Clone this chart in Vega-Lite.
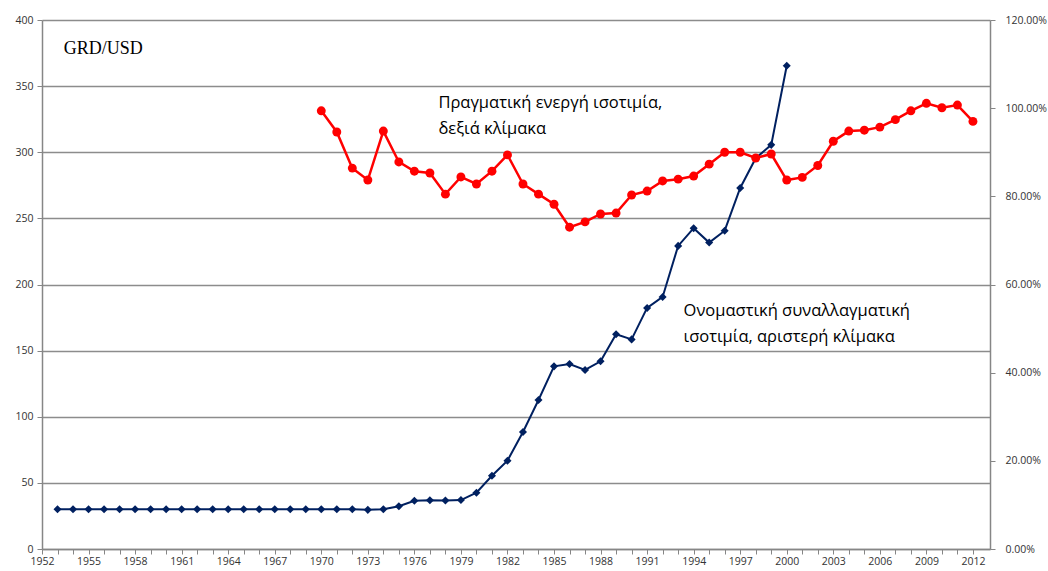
{
  "$schema": "https://vega.github.io/schema/vega-lite/v6.json",
  "width": 948,
  "height": 529,
  "autosize": {"type": "none"},
  "padding": {"left": 42, "top": 20, "right": 58, "bottom": 22},
  "background": "white",
  "config": {
    "view": {"stroke": null},
    "axis": {"labelFont": "Open Sans", "labelFontSize": 10.5, "labelColor": "#333333", "domainColor": "#868686", "tickColor": "#868686", "domainWidth": 1.5, "gridColor": "#8c8c8c", "gridWidth": 1.5}
  },
  "datasets": {
    "nominal": [
      {"year": 1953, "v": 30}, {"year": 1954, "v": 30}, {"year": 1955, "v": 30}, {"year": 1956, "v": 30},
      {"year": 1957, "v": 30}, {"year": 1958, "v": 30}, {"year": 1959, "v": 30}, {"year": 1960, "v": 30},
      {"year": 1961, "v": 30}, {"year": 1962, "v": 30}, {"year": 1963, "v": 30}, {"year": 1964, "v": 30},
      {"year": 1965, "v": 30}, {"year": 1966, "v": 30}, {"year": 1967, "v": 30}, {"year": 1968, "v": 30},
      {"year": 1969, "v": 30}, {"year": 1970, "v": 30}, {"year": 1971, "v": 30}, {"year": 1972, "v": 30},
      {"year": 1973, "v": 29.6}, {"year": 1974, "v": 30}, {"year": 1975, "v": 32.3}, {"year": 1976, "v": 36.5},
      {"year": 1977, "v": 36.8}, {"year": 1978, "v": 36.7}, {"year": 1979, "v": 37}, {"year": 1980, "v": 42.6},
      {"year": 1981, "v": 55.4}, {"year": 1982, "v": 66.8}, {"year": 1983, "v": 88.5}, {"year": 1984, "v": 112.7},
      {"year": 1985, "v": 138.1}, {"year": 1986, "v": 139.9}, {"year": 1987, "v": 135.4}, {"year": 1988, "v": 141.9},
      {"year": 1989, "v": 162.4}, {"year": 1990, "v": 158.5}, {"year": 1991, "v": 182.3}, {"year": 1992, "v": 190.6},
      {"year": 1993, "v": 229.2}, {"year": 1994, "v": 242.6}, {"year": 1995, "v": 231.7}, {"year": 1996, "v": 240.7},
      {"year": 1997, "v": 273}, {"year": 1998, "v": 295.5}, {"year": 1999, "v": 305.6}, {"year": 2000, "v": 365.4}
    ],
    "real": [
      {"year": 1970, "r": 0.994}, {"year": 1971, "r": 0.946}, {"year": 1972, "r": 0.864}, {"year": 1973, "r": 0.837},
      {"year": 1974, "r": 0.948}, {"year": 1975, "r": 0.878}, {"year": 1976, "r": 0.857}, {"year": 1977, "r": 0.853},
      {"year": 1978, "r": 0.805}, {"year": 1979, "r": 0.844}, {"year": 1980, "r": 0.828}, {"year": 1981, "r": 0.857},
      {"year": 1982, "r": 0.894}, {"year": 1983, "r": 0.828}, {"year": 1984, "r": 0.805}, {"year": 1985, "r": 0.782},
      {"year": 1986, "r": 0.730}, {"year": 1987, "r": 0.742}, {"year": 1988, "r": 0.760}, {"year": 1989, "r": 0.762},
      {"year": 1990, "r": 0.803}, {"year": 1991, "r": 0.812}, {"year": 1992, "r": 0.835}, {"year": 1993, "r": 0.839},
      {"year": 1994, "r": 0.846}, {"year": 1995, "r": 0.873}, {"year": 1996, "r": 0.900}, {"year": 1997, "r": 0.900},
      {"year": 1998, "r": 0.887}, {"year": 1999, "r": 0.896}, {"year": 2000, "r": 0.837}, {"year": 2001, "r": 0.843},
      {"year": 2002, "r": 0.870}, {"year": 2003, "r": 0.925}, {"year": 2004, "r": 0.948}, {"year": 2005, "r": 0.950},
      {"year": 2006, "r": 0.957}, {"year": 2007, "r": 0.974}, {"year": 2008, "r": 0.994}, {"year": 2009, "r": 1.011},
      {"year": 2010, "r": 1.001}, {"year": 2011, "r": 1.007}, {"year": 2012, "r": 0.970}
    ],
    "labels": [
      {"year": 1953.4, "v": 378, "t": "GRD/USD", "f": "serif"},
      {"year": 1977.55, "v": 343, "t": "Πραγματική ενεργή ισοτιμία,\nδεξιά κλίμακα", "f": "sans"},
      {"year": 1993.35, "v": 186, "t": "Ονομαστική συναλλαγματική\nισοτιμία, αριστερή κλίμακα", "f": "sans"}
    ]
  },
  "encoding": {
    "x": {"field": "year", "type": "quantitative", "scale": {"domain": [1952, 2013.1], "nice": false, "zero": false},
      "axis": {"title": null, "grid": false, "format": "d", "values": [1952,1953,1954,1955,1956,1957,1958,1959,1960,1961,1962,1963,1964,1965,1966,1967,1968,1969,1970,1971,1972,1973,1974,1975,1976,1977,1978,1979,1980,1981,1982,1983,1984,1985,1986,1987,1988,1989,1990,1991,1992,1993,1994,1995,1996,1997,1998,1999,2000,2001,2002,2003,2004,2005,2006,2007,2008,2009,2010,2011,2012],
        "labelExpr": "(datum.value - 1952) % 3 == 0 ? datum.label : ''", "tickSize": 5, "labelPadding": 2, "labelOverlap": false, "labelFlush": false, "labelSeparation": 0, "labelBound": false}}
  },
  "layer": [
    {
      "layer": [
        {
          "data": {"name": "nominal"},
          "mark": {"type": "line", "color": "#002060", "strokeWidth": 2},
          "encoding": {
            "y": {"field": "v", "type": "quantitative", "scale": {"domain": [0, 400], "nice": false},
              "axis": {"title": null, "values": [0,50,100,150,200,250,300,350,400], "grid": true, "tickSize": 5, "labelPadding": 4, "domain": true}}
          }
        },
        {
          "data": {"name": "nominal"},
          "mark": {"type": "point", "shape": "diamond", "filled": true, "color": "#002060", "size": 65, "opacity": 1},
          "encoding": {
            "y": {"field": "v", "type": "quantitative"}
          }
        },
        {
          "data": {"name": "labels"},
          "transform": [{"filter": "datum.f == 'serif'"}],
          "mark": {"type": "text", "align": "left", "baseline": "middle", "font": "Liberation Serif", "fontSize": 18, "color": "#000000"},
          "encoding": {
            "y": {"field": "v", "type": "quantitative"},
            "text": {"field": "t"}
          }
        },
        {
          "data": {"name": "labels"},
          "transform": [{"filter": "datum.f == 'sans'"}],
          "mark": {"type": "text", "align": "left", "baseline": "top", "font": "Open Sans", "fontSize": 16.5, "lineBreak": "\n", "lineHeight": 26, "color": "#000000"},
          "encoding": {
            "y": {"field": "v", "type": "quantitative"},
            "text": {"field": "t"}
          }
        }
      ]
    },
    {
      "layer": [
        {
          "data": {"name": "real"},
          "mark": {"type": "line", "color": "#ff0000", "strokeWidth": 2.5},
          "encoding": {
            "y": {"field": "r", "type": "quantitative", "scale": {"domain": [0, 1.2], "nice": false},
              "axis": {"orient": "right", "title": null, "format": ".2%", "values": [0,0.2,0.4,0.6,0.8,1.0,1.2], "grid": false, "tickSize": 5, "labelPadding": 10}}
          }
        },
        {
          "data": {"name": "real"},
          "mark": {"type": "point", "shape": "circle", "filled": true, "color": "#ff0000", "size": 80, "opacity": 1},
          "encoding": {
            "y": {"field": "r", "type": "quantitative"}
          }
        }
      ]
    }
  ],
  "resolve": {"scale": {"y": "independent"}}
}
